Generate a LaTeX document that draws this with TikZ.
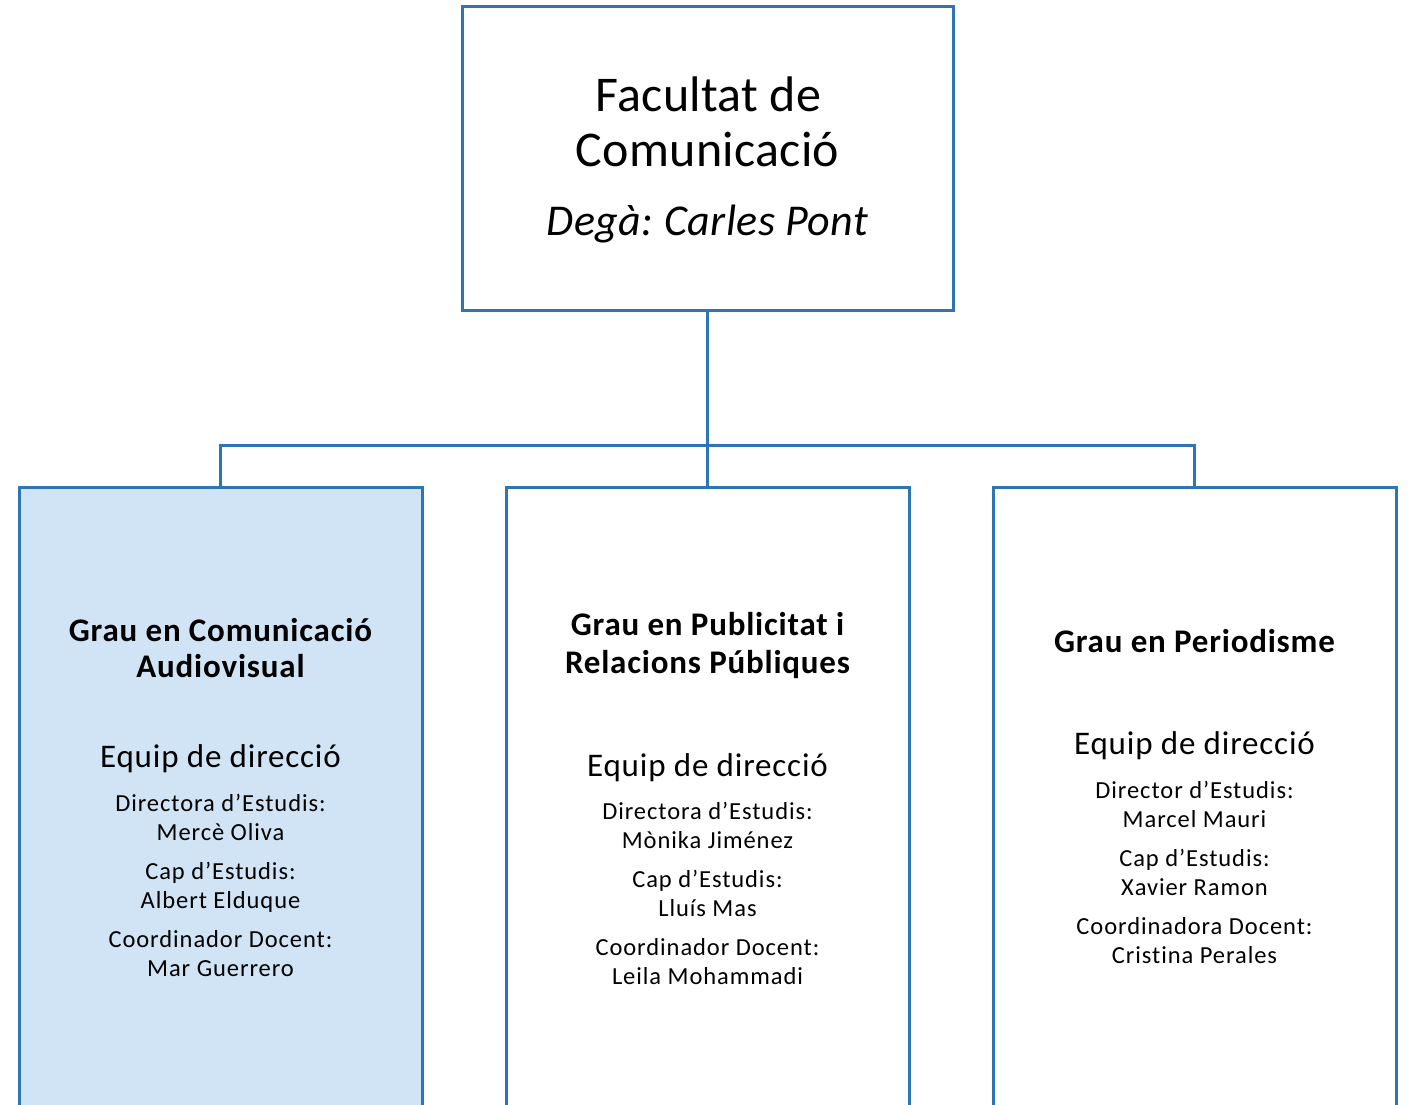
\documentclass[tikz,border=0pt]{standalone}
\usepackage{fontspec}
\setmainfont{Carlito}[Ligatures=NoCommon]
\newfontfamily\ftop[LetterSpace=0.6,Ligatures=NoCommon]{Carlito}
\newfontfamily\fdega[LetterSpace=1.0,Ligatures=NoCommon]{Carlito}
\newfontfamily\ftit[LetterSpace=2.4,Ligatures=NoCommon]{Carlito}
\newfontfamily\feq[LetterSpace=2.5,Ligatures=NoCommon]{Carlito}
\newfontfamily\fsm[LetterSpace=3.8,Ligatures=NoCommon]{Carlito}
\frenchspacing
\definecolor{boxline}{HTML}{2E75B6}
\definecolor{boxfill}{HTML}{D0E4F5}
\tikzset{
  orgbox/.style={draw=boxline, line width=3pt, rectangle, inner sep=0pt},
  link/.style={draw=boxline, line width=3pt},
  txt/.style={anchor=base, inner sep=0pt, text=black},
  topf/.style={font=\ftop\fontsize{50}{55}\selectfont},
  degaf/.style={font=\fdega\fontsize{44}{50}\selectfont\itshape},
  titf/.style={font=\ftit\fontsize{33}{37}\selectfont\bfseries},
  eqf/.style={font=\feq\fontsize{33}{37}\selectfont},
  smf/.style={font=\fsm\fontsize{24.5}{29}\selectfont}
}
\begin{document}
\begin{tikzpicture}[x=1pt,y=-1pt]
\useasboundingbox (0,0) rectangle (1409,1104);
\clip (0,0) rectangle (1409,1104);
\fill[white] (0,0) rectangle (1409,1104);
% boxes
\node[orgbox, minimum width=491pt, minimum height=304pt] (fac) at (707.5,158) {};
\node[orgbox, fill=boxfill, minimum width=403pt, minimum height=643pt] (cav) at (220.5,808.5) {};
\node[orgbox, minimum width=403pt, minimum height=643pt] (prp) at (707.5,808.5) {};
\node[orgbox, minimum width=403pt, minimum height=643pt] (per) at (1194.5,808.5) {};
% connectors
\coordinate (bar) at (707.5,445);
\draw[link] (fac.south) -- (prp.north);
\draw[link] (cav.north) |- (bar) -| (per.north);
% top texts
\node[txt, topf] (f1) at (708.5,111) {Facultat de};
\node[txt, topf] (f2) at (707.5,166) {Comunicació};
\node[txt, degaf] (f3) at (707.5,235) {Degà: Carles Pont};
% left
\node[txt, titf] (a1) at (220.5,641) {Grau en Comunicació};
\node[txt, titf] (a2) at (220.5,677) {Audiovisual};
\node[txt, eqf] (a3) at (220.5,767) {Equip de direcció};
\node[txt, smf] (a4) at (220.5,811) {Directora d’Estudis:};
\node[txt, smf] (a5) at (220.5,840) {Mercè Oliva};
\node[txt, smf] (a6) at (220.5,879) {Cap d’Estudis:};
\node[txt, smf] (a7) at (220.5,908) {Albert Elduque};
\node[txt, smf] (a8) at (220.5,947) {Coordinador Docent:};
\node[txt, smf] (a9) at (220.5,976) {Mar Guerrero};
% middle
\node[txt, titf] (b1) at (707.5,635) {Grau en Publicitat i};
\node[txt, titf] (b2) at (707.5,673) {Relacions Públiques};
\node[txt, eqf] (b3) at (707.5,776) {Equip de direcció};
\node[txt, smf] (b4) at (707.5,819) {Directora d’Estudis:};
\node[txt, smf] (b5) at (707.5,848) {Mònika Jiménez};
\node[txt, smf] (b6) at (707.5,887) {Cap d’Estudis:};
\node[txt, smf] (b7) at (707.5,916) {Lluís Mas};
\node[txt, smf] (b8) at (707.5,955) {Coordinador Docent:};
\node[txt, smf] (b9) at (707.5,984) {Leila Mohammadi};
% right
\node[txt, titf] (c1) at (1194.5,652) {Grau en Periodisme};
\node[txt, eqf] (c3) at (1194.5,754) {Equip de direcció};
\node[txt, smf] (c4) at (1194.5,798) {Director d’Estudis:};
\node[txt, smf] (c5) at (1194.5,827) {Marcel Mauri};
\node[txt, smf] (c6) at (1194.5,866) {Cap d’Estudis:};
\node[txt, smf] (c7) at (1194.5,895) {Xavier Ramon};
\node[txt, smf] (c8) at (1194.5,934) {Coordinadora Docent:};
\node[txt, smf] (c9) at (1194.5,963) {Cristina Perales};
\end{tikzpicture}
\end{document}
